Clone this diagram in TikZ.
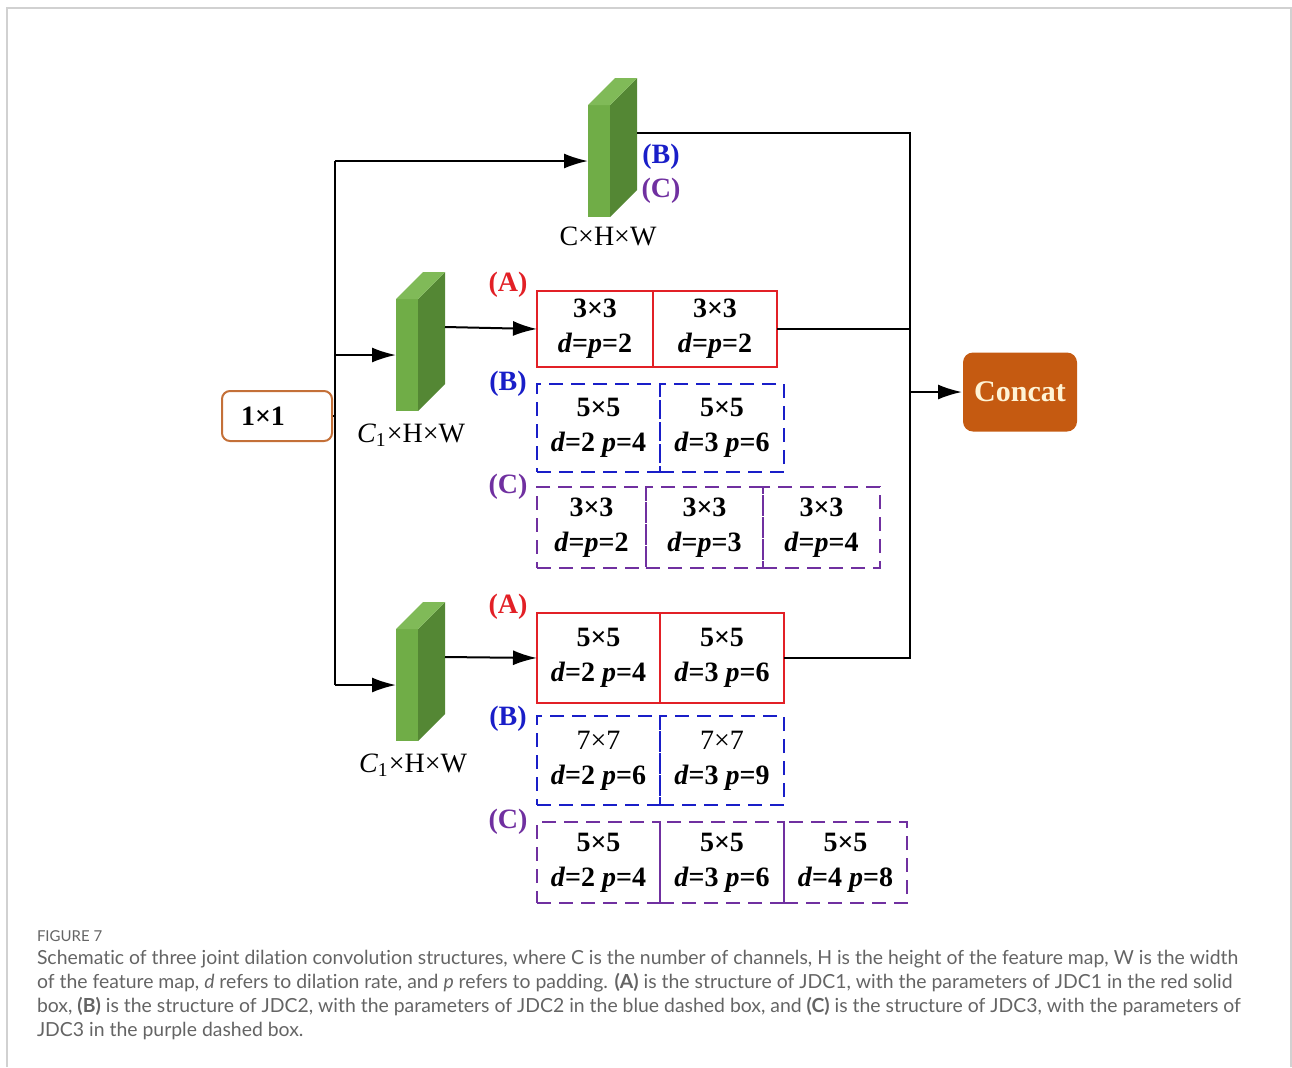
\documentclass[tikz,border=0pt]{standalone}
\usepackage{fontspec}
\setmainfont{Liberation Serif}
\newfontfamily\capfont[Ligatures=NoCommon]{Lato}
\usetikzlibrary{arrows.meta,positioning,calc}

\definecolor{blockfront}{RGB}{112,173,71}
\definecolor{blockside}{RGB}{84,135,52}
\definecolor{blocktop}{RGB}{128,186,88}
\definecolor{jdcred}{RGB}{226,32,38}
\definecolor{jdcblue}{RGB}{25,30,200}
\definecolor{jdcpurple}{RGB}{112,48,160}
\definecolor{convorange}{RGB}{197,90,17}
\definecolor{oneborder}{RGB}{196,112,56}
\definecolor{concattext}{RGB}{255,244,214}
\definecolor{capgray}{RGB}{100,100,100}

\tikzset{
  x=0.5pt, y=-0.5pt,
  arr/.style={-{Latex[length=12pt,width=7.5pt]}},
  front/.style={fill=blockfront, minimum width=11pt, minimum height=56pt, inner sep=0pt, outer sep=0pt},
  kcell/.style={minimum height=#1, inner sep=0pt, outer sep=0pt, align=center, line width=1pt,
    font=\fontsize{14}{17.5}\selectfont\bfseries},
  solidA/.style={kcell=#1, draw=jdcred},
  dashB/.style={kcell=#1, draw=jdcblue, dash pattern=on 7pt off 4pt},
  dashC/.style={kcell=#1, draw=jdcpurple, dash pattern=on 7pt off 4pt},
  tag/.style={font=\fontsize{14}{16}\selectfont\bfseries, inner sep=0pt},
  dims/.style={font=\fontsize{14}{16}\selectfont, inner sep=0pt},
  capline/.style={font=\capfont\fontsize{9.7}{12}\selectfont, text=capgray, inner sep=0pt, anchor=base west},
}

\begin{document}
\begin{tikzpicture}[line width=1pt]
  \useasboundingbox (0,0) rectangle (1292,1067);
  \draw [black!18, line width=0.7pt] (7,1067) -- (7,8) -- (1291,8) -- (1291,1067);

  % input conv and trunk
  \node [draw=oneborder, rounded corners=4pt, minimum width=55pt, minimum height=25pt,
         font=\fontsize{14}{16}\selectfont\bfseries] (k1) at (277,416) {1×1\hspace*{14pt}};
  \coordinate (trunk) at (335,416);

  % feature blocks
  \node [front] (blkT) at (599,161) {};
  \fill [blockside] (blkT.north east) -- ++(27,-27) -- ++(0,112) -- (blkT.south east) -- cycle;
  \fill [blocktop] (blkT.north west) -- ++(27,-27) -- ++(22,0) -- (blkT.north east) -- cycle;
  \node [dims] (dimT) at (608,236) {C×H×W};
  \node [tag, text=jdcblue] (tagTB) at (661,157) {(B)};
  \node [tag, text=jdcpurple] (tagTC) at (661,191) {(C)};

  \node [front] (blkM) at (407,355) {};
  \fill [blockside] (blkM.north east) -- ++(27,-27) -- ++(0,112) -- (blkM.south east) -- cycle;
  \fill [blocktop] (blkM.north west) -- ++(27,-27) -- ++(22,0) -- (blkM.north east) -- cycle;
  \node [dims] (dimM) at (411,435) {\textit{C}\textsubscript{1}×H×W};

  \node [front] (blkB) at (407,685) {};
  \fill [blockside] (blkB.north east) -- ++(27,-27) -- ++(0,112) -- (blkB.south east) -- cycle;
  \fill [blocktop] (blkB.north west) -- ++(27,-27) -- ++(22,0) -- (blkB.north east) -- cycle;
  \node [dims] (dimB) at (413,765) {\textit{C}\textsubscript{1}×H×W};

  \coordinate (outT) at ($(blkT.east)+(27,-28)$);
  \coordinate (outM) at ($(blkM.east)+(27,-28)$);
  \coordinate (outB) at ($(blkB.east)+(27,-28)$);

  % middle branch kernels
  \node [tag, text=jdcred] (tagMA) at (508,285) {(A)};
  \node [solidA=38pt, minimum width=58pt, anchor=north west] (a1l) at (537,291) {3×3\\\textit{d}=\textit{p}=2};
  \node [solidA=38pt, minimum width=62pt, right=0pt of a1l] (a1r) {3×3\\\textit{d}=\textit{p}=2};

  \node [tag, text=jdcblue] (tagMB) at (508,384) {(B)};
  \node [dashB=44pt, minimum width=61.5pt, anchor=north west] (b1l) at (537,384) {5×5\\\textit{d}=2 \textit{p}=4};
  \node [dashB=44pt, minimum width=62pt, right=0pt of b1l] (b1r) {5×5\\\textit{d}=3 \textit{p}=6};

  \node [tag, text=jdcpurple] (tagMC) at (508,487) {(C)};
  \node [dashC=40.5pt, minimum width=54.5pt, anchor=north west] (c1l) at (537,487) {3×3\\\textit{d}=\textit{p}=2};
  \node [dashC=40.5pt, minimum width=58.5pt, right=0pt of c1l] (c1m) {3×3\\\textit{d}=\textit{p}=3};
  \node [dashC=40.5pt, minimum width=58.5pt, right=0pt of c1m] (c1r) {3×3\\\textit{d}=\textit{p}=4};

  % bottom branch kernels
  \node [tag, text=jdcred] (tagBA) at (508,607) {(A)};
  \node [solidA=45pt, minimum width=61.5pt, anchor=north west] (a2l) at (537,613) {5×5\\\textit{d}=2 \textit{p}=4};
  \node [solidA=45pt, minimum width=62pt, right=0pt of a2l] (a2r) {5×5\\\textit{d}=3 \textit{p}=6};

  \node [tag, text=jdcblue] (tagBB) at (508,719) {(B)};
  \node [dashB=44.5pt, minimum width=61.5pt, anchor=north west] (b2l) at (537,716) {\mdseries 7×7\\\textit{d}=2 \textit{p}=6};
  \node [dashB=44.5pt, minimum width=62pt, right=0pt of b2l] (b2r) {\mdseries 7×7\\\textit{d}=3 \textit{p}=9};

  \node [tag, text=jdcpurple] (tagBC) at (508,822) {(C)};
  \node [dashC=40.5pt, minimum width=61.5pt, anchor=north west] (c2l) at (537,822) {5×5\\\textit{d}=2 \textit{p}=4};
  \node [dashC=40.5pt, minimum width=62pt, right=0pt of c2l] (c2m) {5×5\\\textit{d}=3 \textit{p}=6};
  \node [dashC=40.5pt, minimum width=61.5pt, right=0pt of c2m] (c2r) {5×5\\\textit{d}=4 \textit{p}=8};

  % concat
  \node [fill=convorange, rounded corners=5pt, minimum width=57pt, minimum height=39.5pt,
         text=concattext, font=\fontsize{15}{18}\selectfont\bfseries] (concat) at (1020,392) {Concat};
  \coordinate (bus) at (910,392);

  % connectors
  \draw (k1.east) -- (trunk);
  \draw (trunk |- blkT.west) -- (trunk |- blkB.west);
  \draw [arr] (trunk |- blkT.west) -- (blkT.west);
  \draw [arr] (trunk |- blkM.west) -- (blkM.west);
  \draw [arr] (trunk |- blkB.west) -- (blkB.west);
  \draw [arr] (outM) -- (a1l.west);
  \draw [arr] (outB) -- (a2l.west);
  \draw (outT) -- (bus |- outT) -- (bus |- a2r.east) -- (a2r.east);
  \draw (a1r.east) -- (bus |- a1r.east);
  \draw [arr] (bus) -- (concat.west);

  % caption
  \node [capline, font=\capfont\fontsize{7.5}{9}\selectfont] (fig) at (36,941) {FIGURE 7};
  \node [capline] (cap1) at (36,964) {Schematic of three joint dilation convolution structures, where C is the number of channels, H is the height of the feature map, W is the width};
  \node [capline] (cap2) at (36,988) {of the feature map, \textit{d} refers to dilation rate, and \textit{p} refers to padding. \textbf{(A)} is the structure of JDC1, with the parameters of JDC1 in the red solid};
  \node [capline] (cap3) at (36,1012) {box, \textbf{(B)} is the structure of JDC2, with the parameters of JDC2 in the blue dashed box, and \textbf{(C)} is the structure of JDC3, with the parameters of};
  \node [capline] (cap4) at (36,1036) {JDC3 in the purple dashed box.};
\end{tikzpicture}
\end{document}
